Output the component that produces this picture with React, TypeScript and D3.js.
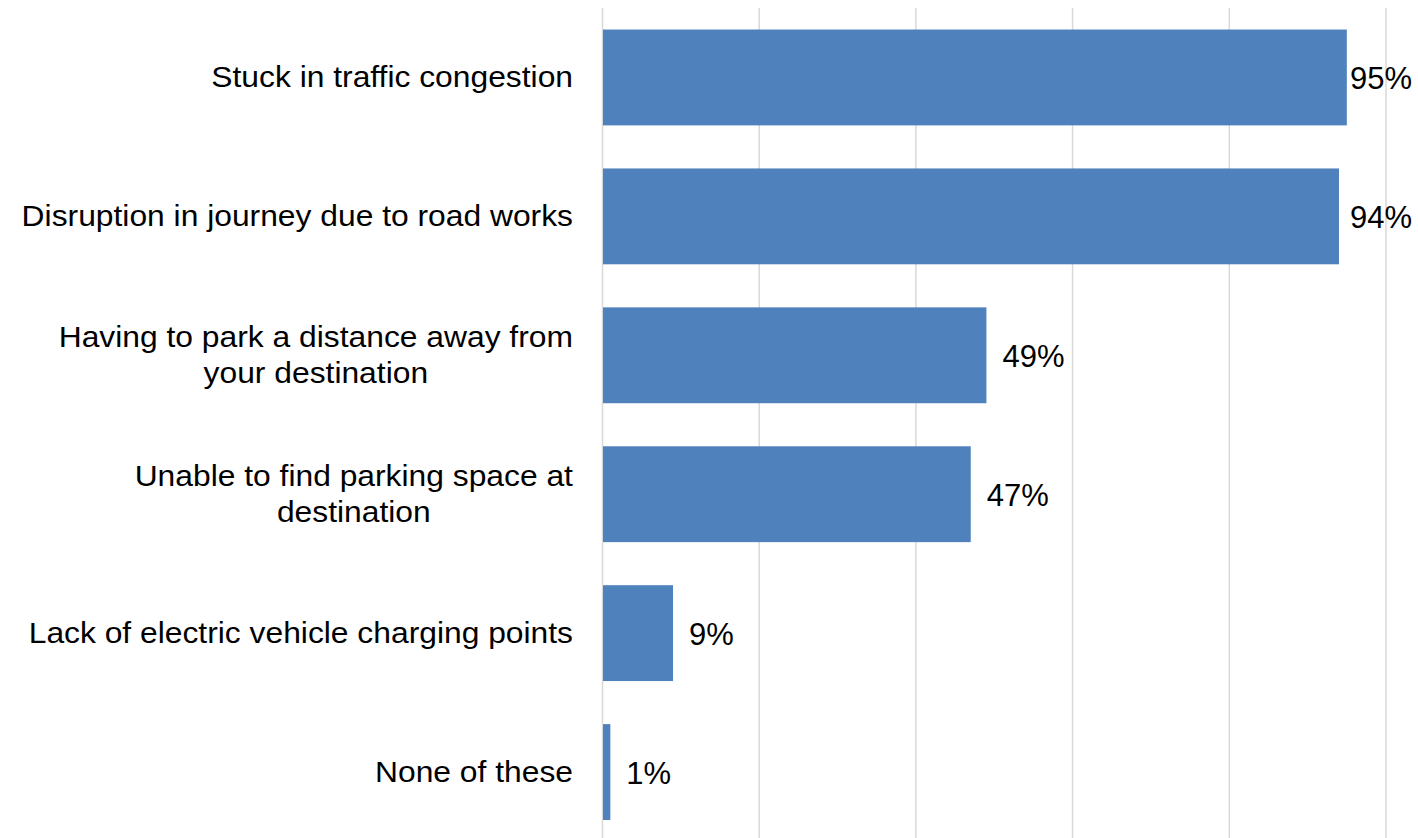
import React from "react";
import * as d3 from "d3";

const categories: string[][] = [
  ["Stuck in traffic congestion"],
  ["Disruption in journey due to road works"],
  ["Having to park a distance away from", "your destination"],
  ["Unable to find parking space at", "destination"],
  ["Lack of electric vehicle charging points"],
  ["None of these"],
];
const values: number[] = [0.95, 0.94, 0.49, 0.47, 0.09, 0.01];
const valueLabels: string[] = ["95%", "94%", "49%", "47%", "9%", "1%"];
const gridTicks: number[] = [0, 0.2, 0.4, 0.6, 0.8, 1.0];

const W = 1418;
const H = 838;
const FONT = "'Liberation Sans', Arial, sans-serif";
const FS = 30;
const VFS = 31;
const SX = 1.06;

let ctx: CanvasRenderingContext2D | null = null;
function measure(t: string): number {
  if (!ctx) {
    const c = document.createElement("canvas");
    ctx = c.getContext("2d");
  }
  if (!ctx) return t.length * FS * 0.5;
  ctx.font = `${FS}px ${FONT}`;
  return ctx.measureText(t).width;
}

export default function App() {
  const x = d3.scaleLinear().domain([0, 1]).range([602.5, 1386]);
  const keys = categories.map((c, i) => String(i));
  const y = d3
    .scaleBand<string>()
    .domain(keys)
    .range([8, 841.5])
    .paddingInner(0.31)
    .paddingOuter(0.155);
  const labelRight = 573;
  const valueMaxX = 1350;

  return (
    <svg
      width={W}
      height={H}
      style={{ position: "absolute", left: 0, top: 0, background: "#fff" }}
      fontFamily={FONT}
    >
      {gridTicks.map((t) => (
        <line
          key={t}
          x1={x(t)}
          x2={x(t)}
          y1={8}
          y2={H}
          stroke="#d9d9d9"
          strokeWidth={1.5}
        />
      ))}
      {values.map((v, i) => {
        const y0 = y(keys[i]) as number;
        const bw = y.bandwidth();
        const cy = y0 + bw / 2;
        const end = x(v);
        const lx = Math.min(end + 16, valueMaxX);
        const lines = categories[i];
        const widths = lines.map(measure);
        const maxW = Math.max(...widths) * SX;
        const centerX = labelRight - maxW / 2;
        const firstBase = cy - ((lines.length - 1) * 36) / 2 + 10;
        return (
          <g key={i}>
            <rect x={x(0) + 0.5} y={y0} width={end - x(0) - 0.5} height={bw} fill="#4f81bd" />
            <text x={lx} y={cy + 12} fontSize={VFS} fill="#000">
              {valueLabels[i]}
            </text>
            {lines.map((ln, j) => (
              <text
                key={j}
                transform={`translate(${lines.length === 1 ? labelRight : centerX},${firstBase + j * 36}) scale(${SX},1)`}
                fontSize={FS}
                fill="#000"
                textAnchor={lines.length === 1 ? "end" : "middle"}
              >
                {ln}
              </text>
            ))}
          </g>
        );
      })}
    </svg>
  );
}
